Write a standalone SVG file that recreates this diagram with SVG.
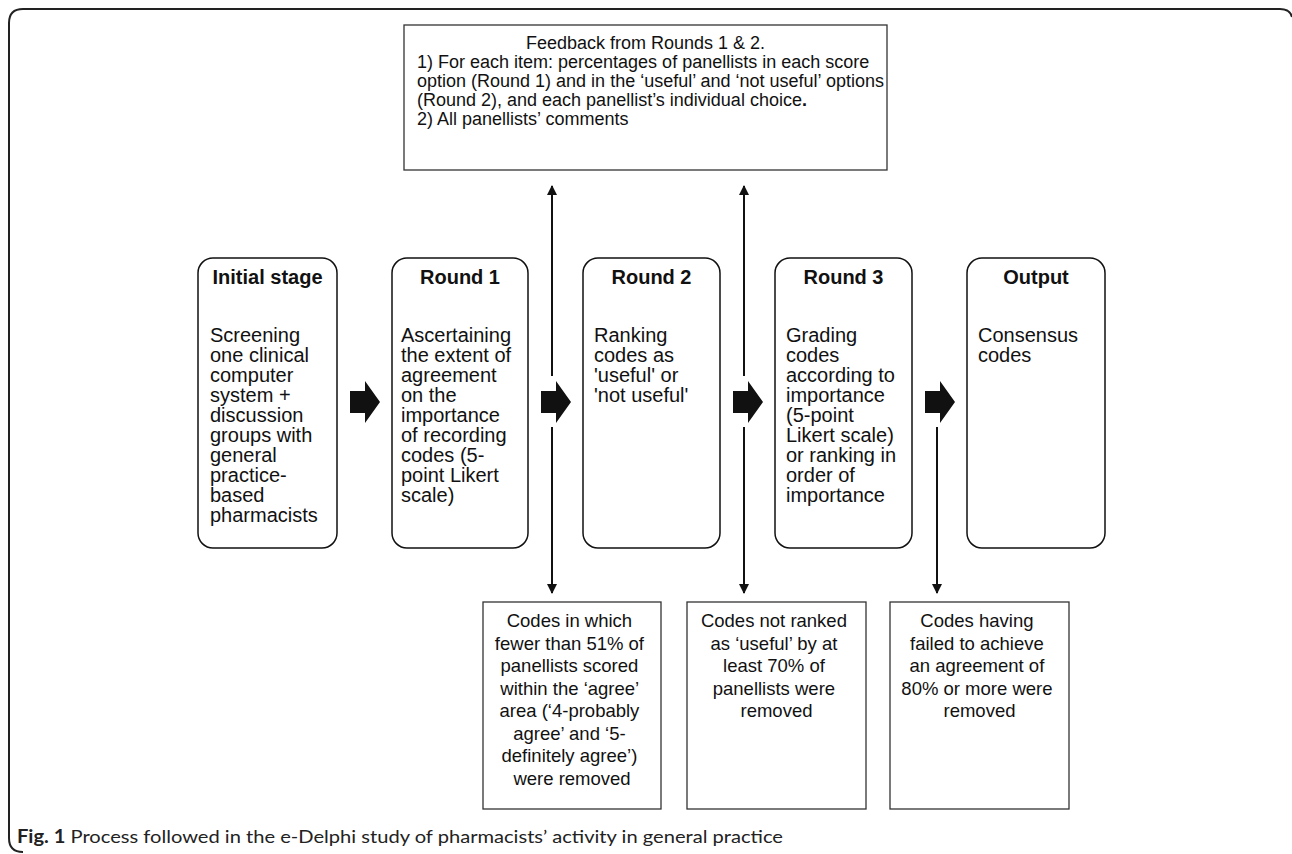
<svg xmlns="http://www.w3.org/2000/svg" width="1292" height="854" viewBox="0 0 1292 854">
<defs>
<style>
.frame{fill:none;stroke:#222;stroke-width:2}
.stage{fill:#fff;stroke:#111;stroke-width:1.5}
.box{fill:#fff;stroke:#333;stroke-width:1.3}
.line{stroke:#111;stroke-width:2;fill:none}
.blk{fill:#111}
.t{font-family:"Liberation Sans",Arial,sans-serif;font-size:20px;fill:#111}
.b{font-family:"Liberation Sans",Arial,sans-serif;font-size:20px;font-weight:bold;fill:#111}
.f{font-family:"Liberation Sans",Arial,sans-serif;font-size:18px;fill:#111}
.s{font-family:"Liberation Sans",Arial,sans-serif;font-size:18.5px;fill:#111}
.cap{font-family:Lato,"Open Sans",sans-serif;font-size:18px;fill:#222}
</style>
<marker id="ah" viewBox="0 0 10 10" refX="9" refY="5" markerWidth="10" markerHeight="10" markerUnits="userSpaceOnUse" orient="auto">
<path d="M0,0 L10,5 L0,10 z" fill="#111"/>
</marker>
</defs>
<rect width="1292" height="854" fill="#fff"/>
<path class="frame" d="M1292,17 Q1290,9 1280,9 L23,9 Q9,9 9,23 L9,838 Q9,852 23,852"/>

<g id="feedback">
<rect class="box" x="404" y="25" width="483" height="145"/>
<text class="f" x="645.5" y="49" text-anchor="middle">Feedback from Rounds 1 &amp; 2.</text>
<text class="f" x="417" y="68">1) For each item: percentages of panellists in each score</text>
<text class="f" x="417" y="87">option (Round 1) and in the ‘useful’ and ‘not useful’ options</text>
<text class="f" x="417" y="106">(Round 2), and each panellist’s individual choice<tspan font-weight="bold">.</tspan></text>
<text class="f" x="417" y="125">2) All panellists’ comments</text>
</g>

<g id="initial">
<rect class="stage" x="198" y="258" width="139" height="290" rx="15"/>
<text class="b" x="267.5" y="284" text-anchor="middle">Initial stage</text>
<text class="t" x="210" y="342">Screening</text>
<text class="t" x="210" y="362">one clinical</text>
<text class="t" x="210" y="382">computer</text>
<text class="t" x="210" y="402">system +</text>
<text class="t" x="210" y="422">discussion</text>
<text class="t" x="210" y="442">groups with</text>
<text class="t" x="210" y="462">general</text>
<text class="t" x="210" y="482">practice-</text>
<text class="t" x="210" y="502">based</text>
<text class="t" x="210" y="522">pharmacists</text>
</g>

<g id="round1">
<rect class="stage" x="392" y="258" width="136" height="290" rx="15"/>
<text class="b" x="460" y="284" text-anchor="middle">Round 1</text>
<text class="t" x="401" y="342">Ascertaining</text>
<text class="t" x="401" y="362">the extent of</text>
<text class="t" x="401" y="382">agreement</text>
<text class="t" x="401" y="402">on the</text>
<text class="t" x="401" y="422">importance</text>
<text class="t" x="401" y="442">of recording</text>
<text class="t" x="401" y="462">codes (5-</text>
<text class="t" x="401" y="482">point Likert</text>
<text class="t" x="401" y="502">scale)</text>
</g>

<g id="round2">
<rect class="stage" x="583" y="258" width="137" height="290" rx="15"/>
<text class="b" x="651.5" y="284" text-anchor="middle">Round 2</text>
<text class="t" x="594" y="342">Ranking</text>
<text class="t" x="594" y="362">codes as</text>
<text class="t" x="594" y="382">'useful' or</text>
<text class="t" x="594" y="402">'not useful'</text>
</g>

<g id="round3">
<rect class="stage" x="775" y="258" width="137" height="290" rx="15"/>
<text class="b" x="843.5" y="284" text-anchor="middle">Round 3</text>
<text class="t" x="786" y="342">Grading</text>
<text class="t" x="786" y="362">codes</text>
<text class="t" x="786" y="382">according to</text>
<text class="t" x="786" y="402">importance</text>
<text class="t" x="786" y="422">(5-point</text>
<text class="t" x="786" y="442">Likert scale)</text>
<text class="t" x="786" y="462">or ranking in</text>
<text class="t" x="786" y="482">order of</text>
<text class="t" x="786" y="502">importance</text>
</g>

<g id="output">
<rect class="stage" x="967" y="258" width="138" height="290" rx="15"/>
<text class="b" x="1036" y="284" text-anchor="middle">Output</text>
<text class="t" x="978" y="342">Consensus</text>
<text class="t" x="978" y="362">codes</text>
</g>

<g id="removed1">
<rect class="box" x="483" y="602" width="178" height="207"/>
<text class="s" text-anchor="middle" x="572">
<tspan x="572" y="627">Codes in which</tspan>
<tspan x="572" y="649.5">fewer than 51% of</tspan>
<tspan x="572" y="672">panellists scored</tspan>
<tspan x="572" y="694.5">within the ‘agree’</tspan>
<tspan x="572" y="717">area (‘4-probably</tspan>
<tspan x="572" y="739.5">agree’ and ‘5-</tspan>
<tspan x="572" y="762">definitely agree’)</tspan>
<tspan x="572" y="784.5">were removed</tspan>
</text>
</g>

<g id="removed2">
<rect class="box" x="687" y="602" width="179" height="207"/>
<text class="s" text-anchor="middle" x="776.5">
<tspan x="776.5" y="627">Codes not ranked</tspan>
<tspan x="776.5" y="649.5">as ‘useful’ by at</tspan>
<tspan x="776.5" y="672">least 70% of</tspan>
<tspan x="776.5" y="694.5">panellists were</tspan>
<tspan x="776.5" y="717">removed</tspan>
</text>
</g>

<g id="removed3">
<rect class="box" x="890" y="602" width="179" height="207"/>
<text class="s" text-anchor="middle" x="979.5">
<tspan x="979.5" y="627">Codes having</tspan>
<tspan x="979.5" y="649.5">failed to achieve</tspan>
<tspan x="979.5" y="672">an agreement of</tspan>
<tspan x="979.5" y="694.5">80% or more were</tspan>
<tspan x="979.5" y="717">removed</tspan>
</text>
</g>

<g id="connectors">
<path class="blk" d="M350,391 L365,391 L365,381 L380,402 L365,423 L365,413 L350,413 z"/>
<path class="blk" d="M541,391 L556,391 L556,381 L571,402 L556,423 L556,413 L541,413 z"/>
<path class="blk" d="M733,391 L748,391 L748,381 L763,402 L748,423 L748,413 L733,413 z"/>
<path class="blk" d="M925,391 L940,391 L940,381 L955,402 L940,423 L940,413 L925,413 z"/>
<line class="line" x1="552" y1="376" x2="552" y2="186" marker-end="url(#ah)"/>
<line class="line" x1="552" y1="427" x2="552" y2="593" marker-end="url(#ah)"/>
<line class="line" x1="744" y1="376" x2="744" y2="186" marker-end="url(#ah)"/>
<line class="line" x1="744" y1="427" x2="744" y2="593" marker-end="url(#ah)"/>
<line class="line" x1="937" y1="427" x2="937" y2="593" marker-end="url(#ah)"/>
</g>

<text class="cap" x="17" y="843" textLength="766" lengthAdjust="spacingAndGlyphs"><tspan font-weight="bold">Fig. 1</tspan> Process followed in the e-Delphi study of pharmacists’ activity in general practice</text>
</svg>
